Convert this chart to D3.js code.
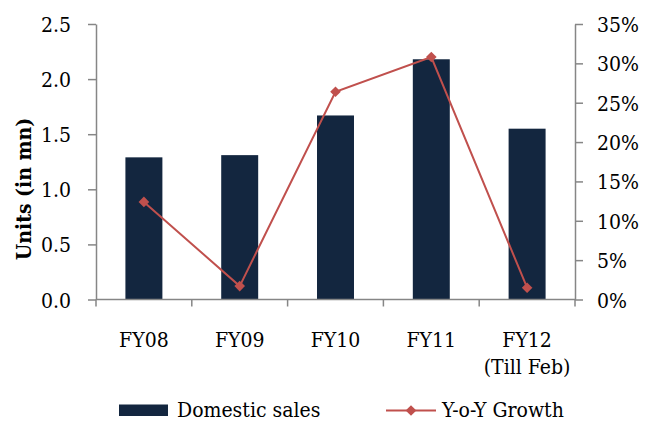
<!DOCTYPE html>
<html>
<head>
<meta charset="utf-8">
<script src="https://cdn.jsdelivr.net/npm/d3@7"></script>
<style>
  html, body { margin: 0; padding: 0; background: #fff; }
  svg { display: block; }
  text { font-family: "DejaVu Serif Condensed", "DejaVu Serif", serif; font-stretch: condensed; fill: #000; }
</style>
</head>
<body>
<svg id="chart" width="648" height="422"></svg>
<script>
// Data
const categories = ["FY08", "FY09", "FY10", "FY11", "FY12\n(Till Feb)"];
const domesticSales = [1.29, 1.31, 1.67, 2.18, 1.55];       // units, mn
const yoyGrowth = [0.124, 0.017, 0.264, 0.308, 0.015];      // share
const leftTicks = [0, 0.5, 1.0, 1.5, 2.0, 2.5];
const rightTicks = [0, 0.05, 0.10, 0.15, 0.20, 0.25, 0.30, 0.35];

const svg = d3.select("#chart");
const plot = { left: 96, right: 575, top: 24, bottom: 299.5 };
const axisColor = "#868686";
const barColor = "#13263f";
const lineColor = "#c0504d";
const fontSize = 21;

const x = d3.scaleBand().domain(categories).range([plot.left, plot.right]).paddingInner(0).paddingOuter(0);
const yL = d3.scaleLinear().domain([0, 2.5]).range([plot.bottom, plot.top]);
const yR = d3.scaleLinear().domain([0, 0.35]).range([plot.bottom, plot.top]);
const barW = x.bandwidth() * 0.386;
const cx = d => x(d) + x.bandwidth() / 2;

// Bars
svg.append("g").selectAll("rect").data(categories).join("rect")
  .attr("x", (d) => cx(d) - barW / 2)
  .attr("y", (d, i) => yL(domesticSales[i]))
  .attr("width", barW)
  .attr("height", (d, i) => yL(0) - yL(domesticSales[i]))
  .attr("fill", barColor);

// Left axis
const gL = svg.append("g").attr("transform", `translate(${plot.left},0)`)
  .call(d3.axisLeft(yL).tickValues(leftTicks).tickFormat(d3.format(".1f")).tickSizeInner(8).tickSizeOuter(0).tickPadding(17));
// Right axis
const gR = svg.append("g").attr("transform", `translate(${plot.right},0)`)
  .call(d3.axisRight(yR).tickValues(rightTicks).tickFormat(d3.format(".0%")).tickSizeInner(8).tickSizeOuter(0).tickPadding(14));
// Bottom axis with category boundary ticks
const gB = svg.append("g").attr("transform", `translate(0,${plot.bottom})`);
gB.append("line").attr("x1", plot.left).attr("x2", plot.right).attr("y1", 0).attr("y2", 0)
  .attr("stroke", axisColor).attr("stroke-width", 1.5);
const bounds = categories.map(d => x(d)).concat([plot.right]);
gB.selectAll("line.tk").data(bounds).join("line").attr("class", "tk")
  .attr("x1", d => d).attr("x2", d => d).attr("y1", 0).attr("y2", 7)
  .attr("stroke", axisColor).attr("stroke-width", 1.5);

[gL, gR].forEach(g => {
  g.select(".domain").attr("stroke", axisColor).attr("stroke-width", 1.5);
  g.selectAll(".tick line").attr("stroke", axisColor).attr("stroke-width", 1.5);
  g.selectAll(".tick text").attr("font-size", fontSize).attr("font-family", null).attr("fill", "#000").attr("dy", "0.36em");
});

// Category labels
const labels = svg.append("g").selectAll("text").data(categories).join("text")
  .attr("x", d => cx(d)).attr("y", 346.5)
  .attr("text-anchor", "middle").attr("font-size", fontSize);
labels.each(function(d) {
  const parts = d.split("\n");
  d3.select(this).selectAll("tspan").data(parts).join("tspan")
    .attr("x", cx(d)).attr("dy", (p, i) => i === 0 ? 0 : 27).text(p => p);
});

// Y-axis title
svg.append("text")
  .attr("transform", "translate(31,189) rotate(-90)")
  .attr("text-anchor", "middle").attr("font-size", 21).attr("font-weight", "bold")
  .text("Units (in mn)");

// Growth line
const diamond = d3.symbol().type(d3.symbolDiamond2).size(72);
const line = d3.line().x(d => cx(d[0])).y(d => yR(d[1]));
const pts = categories.map((c, i) => [c, yoyGrowth[i]]);
svg.append("path").datum(pts).attr("d", line)
  .attr("fill", "none").attr("stroke", lineColor).attr("stroke-width", 2);
svg.append("g").selectAll("path").data(pts).join("path")
  .attr("transform", d => `translate(${cx(d[0])},${yR(d[1])})`)
  .attr("d", diamond).attr("fill", lineColor);

// Legend
const lg = svg.append("g");
lg.append("rect").attr("x", 119).attr("y", 404.5).attr("width", 49).attr("height", 11.5).attr("fill", barColor);
lg.append("text").attr("x", 177).attr("y", 417).attr("font-size", fontSize).text("Domestic sales");
lg.append("line").attr("x1", 386).attr("x2", 436).attr("y1", 410.5).attr("y2", 410.5)
  .attr("stroke", lineColor).attr("stroke-width", 2);
lg.append("path").attr("transform", "translate(411,410.5)").attr("d", diamond).attr("fill", lineColor);
lg.append("text").attr("x", 442).attr("y", 417).attr("font-size", fontSize).text("Y-o-Y Growth");
</script>
</body>
</html>
